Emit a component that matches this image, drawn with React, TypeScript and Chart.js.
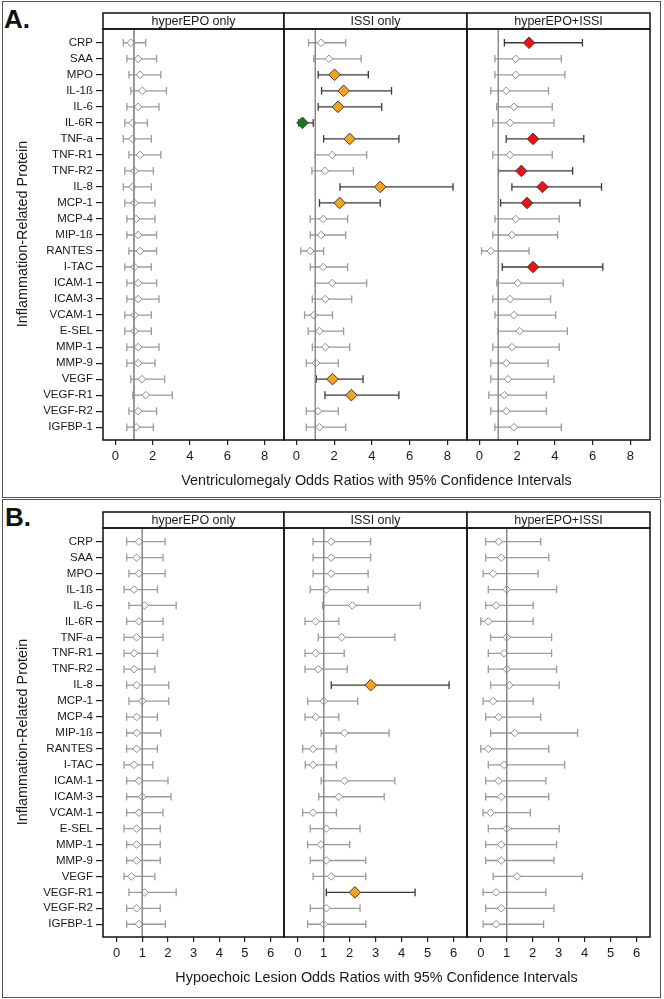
import React, { useEffect, useRef } from 'react';
import { Chart, registerables } from 'chart.js';

Chart.register(...registerables);

const FONT = '"Liberation Sans", Arial, Helvetica, sans-serif';
const ORANGE = '#F6A21C';
const RED = '#F01010';
const GREEN = '#157A15';
const DARK = '#3a3a3a';
const GRAYW = '#9a9a9a';

const proteins = [
  'CRP', 'SAA', 'MPO', 'IL-1ß', 'IL-6', 'IL-6R', 'TNF-a', 'TNF-R1', 'TNF-R2', 'IL-8',
  'MCP-1', 'MCP-4', 'MIP-1ß', 'RANTES', 'I-TAC', 'ICAM-1', 'ICAM-3', 'VCAM-1', 'E-SEL',
  'MMP-1', 'MMP-9', 'VEGF', 'VEGF-R1', 'VEGF-R2', 'IGFBP-1',
];

const facetNames = ['hyperEPO only', 'ISSI only', 'hyperEPO+ISSI'];

// ---------- A. Ventriculomegaly ----------
const vmEpoLo = [0.43, 0.62, 0.73, 0.83, 0.62, 0.51, 0.43, 0.73, 0.51, 0.43, 0.51, 0.62, 0.62, 0.73, 0.51, 0.62, 0.62, 0.51, 0.51, 0.62, 0.62, 0.83, 0.94, 0.73, 0.62];
const vmEpoOr = [0.83, 1.22, 1.33, 1.45, 1.22, 0.92, 0.92, 1.33, 1.03, 0.92, 1.03, 1.12, 1.22, 1.33, 1.03, 1.22, 1.22, 1.03, 1.03, 1.22, 1.22, 1.43, 1.63, 1.22, 1.12];
const vmEpoHi = [1.63, 2.21, 2.44, 2.74, 2.34, 1.72, 1.93, 2.44, 2.04, 1.93, 2.13, 2.13, 2.21, 2.21, 1.93, 2.21, 2.34, 1.93, 1.93, 2.34, 2.13, 2.64, 3.05, 2.21, 2.04];

const vmIssiLo = [0.64, 0.92, 1.15, 1.33, 1.15, 0.12, 1.44, 0.99, 0.82, 2.31, 1.22, 0.73, 0.73, 0.23, 0.73, 0.99, 0.84, 0.43, 0.62, 0.84, 0.52, 1.05, 1.51, 0.52, 0.52];
const vmIssiOr = [1.31, 1.72, 2.02, 2.5, 2.2, 0.32, 2.82, 1.9, 1.51, 4.44, 2.29, 1.42, 1.31, 0.73, 1.42, 1.9, 1.53, 0.92, 1.22, 1.53, 1.03, 1.91, 2.91, 1.14, 1.22];
const vmIssiHi = [2.61, 3.43, 3.81, 5.04, 4.52, 0.89, 5.43, 3.72, 3.02, 8.3, 4.44, 2.71, 2.61, 1.44, 2.71, 3.72, 2.93, 1.91, 2.5, 2.82, 2.22, 3.53, 5.43, 2.22, 2.61];

const vmComboLo = [1.32, 0.82, 0.82, 0.6, 0.91, 0.71, 1.42, 0.71, 1.01, 1.72, 1.12, 0.82, 0.71, 0.11, 1.21, 0.92, 0.71, 0.82, 0.98, 0.71, 0.6, 0.6, 0.5, 0.6, 0.82];
const vmComboOr = [2.63, 1.92, 1.92, 1.42, 1.83, 1.62, 2.84, 1.62, 2.22, 3.34, 2.52, 1.92, 1.72, 0.6, 2.84, 2.03, 1.62, 1.83, 2.13, 1.72, 1.42, 1.51, 1.32, 1.42, 1.83];
const vmComboHi = [5.46, 4.34, 4.53, 3.66, 3.86, 3.95, 5.53, 3.86, 4.94, 6.47, 5.33, 4.23, 4.14, 2.63, 6.54, 4.44, 3.77, 4.04, 4.66, 4.23, 3.64, 3.95, 3.55, 3.55, 4.34];

const vmIssiUp = ['MPO', 'IL-1ß', 'IL-6', 'TNF-a', 'IL-8', 'MCP-1', 'VEGF', 'VEGF-R1'];
const vmIssiDown = ['IL-6R'];
const vmComboUp = ['CRP', 'TNF-a', 'TNF-R2', 'IL-8', 'MCP-1', 'I-TAC'];

const vmTicks = [0, 2, 4, 6, 8];
const vmRange = [-0.66, 9.04];

// ---------- B. Hypoechoic lesion ----------
const hlEpoLo = [0.39, 0.39, 0.48, 0.29, 0.48, 0.39, 0.29, 0.29, 0.29, 0.39, 0.48, 0.39, 0.39, 0.39, 0.29, 0.39, 0.39, 0.39, 0.29, 0.39, 0.39, 0.29, 0.48, 0.39, 0.39];
const hlEpoOr = [0.87, 0.78, 0.87, 0.68, 1.09, 0.87, 0.78, 0.68, 0.68, 0.78, 1.0, 0.78, 0.78, 0.78, 0.68, 0.87, 1.0, 0.87, 0.78, 0.78, 0.78, 0.58, 1.09, 0.78, 0.87];
const hlEpoHi = [1.89, 1.81, 1.89, 1.59, 2.32, 1.81, 1.81, 1.59, 1.49, 2.03, 2.03, 1.59, 1.72, 1.59, 1.41, 2.0, 2.12, 1.81, 1.7, 1.7, 1.7, 1.49, 2.32, 1.7, 1.9];

const hlIssiLo = [0.59, 0.59, 0.59, 0.48, 0.96, 0.28, 0.79, 0.28, 0.28, 1.29, 0.38, 0.28, 0.9, 0.19, 0.29, 0.9, 0.81, 0.19, 0.48, 0.38, 0.48, 0.59, 1.1, 0.48, 0.38];
const hlIssiOr = [1.29, 1.29, 1.29, 1.1, 2.1, 0.69, 1.69, 0.69, 0.79, 2.81, 1.0, 0.69, 1.8, 0.59, 0.59, 1.8, 1.58, 0.59, 1.1, 0.89, 1.1, 1.29, 2.2, 1.1, 1.0];
const hlIssiHi = [2.81, 2.81, 2.71, 2.71, 4.72, 1.58, 3.74, 1.79, 1.91, 5.83, 2.31, 1.58, 3.52, 1.48, 1.49, 3.74, 3.33, 1.49, 2.4, 2.0, 2.62, 2.62, 4.52, 2.4, 2.62];

const hlComboLo = [0.19, 0.19, 0.09, 0.29, 0.19, 0.0, 0.38, 0.29, 0.29, 0.38, 0.09, 0.19, 0.38, 0.0, 0.29, 0.19, 0.19, 0.09, 0.29, 0.19, 0.19, 0.48, 0.09, 0.19, 0.09];
const hlComboOr = [0.69, 0.79, 0.48, 1.0, 0.59, 0.29, 1.0, 0.9, 1.0, 1.1, 0.48, 0.69, 1.31, 0.29, 0.9, 0.69, 0.79, 0.38, 1.0, 0.79, 0.79, 1.4, 0.59, 0.79, 0.59];
const hlComboHi = [2.31, 2.62, 2.21, 2.92, 2.02, 2.02, 2.73, 2.73, 2.92, 3.02, 2.02, 2.31, 3.73, 2.62, 3.23, 2.51, 2.62, 1.91, 3.02, 2.92, 2.82, 3.91, 2.51, 2.82, 2.42];

const hlIssiUp = ['IL-8', 'VEGF-R1'];

const hlTicks = [0, 1, 2, 3, 4, 5, 6];
const hlRange = [-0.53, 6.52];

const yRange = [-0.86, 24.8];

type FacetProps = {
  left: number;
  top: number;
  width: number;
  height: number;
  stripH: number;
  title: string;
  lo: number[];
  or: number[];
  hi: number[];
  up: string[];
  down: string[];
  upColor: string;
  xRange: number[];
  xTicks: number[];
  showY: boolean;
};

function Facet(p: FacetProps) {
  const ref = useRef<HTMLCanvasElement>(null);
  const padL = p.showY ? p.left - 22 : 8;
  const padR = 8;
  const padT = p.stripH + 3;
  const axisH = 32;
  const cw = padL + p.width + padR;
  const ch = padT + p.height + axisH;

  useEffect(() => {
    if (!ref.current) return;
    const kinds = proteins.map((n) => (p.up.includes(n) ? 'up' : p.down.includes(n) ? 'down' : 'none'));
    const sig = kinds.map((k) => k !== 'none');
    const fill = kinds.map((k) => (k === 'up' ? p.upColor : k === 'down' ? GREEN : '#ffffff'));
    const pointData = p.or.map((v, i) => ({ x: v, y: i }));
    const whisk = (want: boolean) => {
      const d: { x: number | null; y: number | null }[] = [];
      proteins.forEach((_, i) => {
        if (sig[i] === want) {
          d.push({ x: p.lo[i], y: i }, { x: p.hi[i], y: i }, { x: null, y: null });
        }
      });
      return d;
    };
    const capData = [...p.lo.map((v, i) => ({ x: v, y: i })), ...p.hi.map((v, i) => ({ x: v, y: i }))];
    const capColor = [...sig, ...sig].map((s) => (s ? DARK : GRAYW));

    const framePlugin = {
      id: 'facetFrame',
      afterDraw(chart: any) {
        const { ctx, chartArea } = chart;
        const { left, right, top, bottom } = chartArea;
        ctx.save();
        ctx.fillStyle = '#ffffff';
        ctx.fillRect(left, top - p.stripH, right - left, p.stripH);
        ctx.strokeStyle = '#111111';
        ctx.lineWidth = 1.5;
        ctx.strokeRect(left, top - p.stripH, right - left, p.stripH);
        ctx.strokeRect(left, top, right - left, bottom - top);
        ctx.fillStyle = '#1a1a1a';
        ctx.font = `12.5px ${FONT}`;
        ctx.textAlign = 'center';
        ctx.textBaseline = 'middle';
        ctx.fillText(p.title, (left + right) / 2, top - p.stripH / 2 + 0.5);
        ctx.restore();
      },
    };

    const chart = new Chart(ref.current, {
      type: 'scatter',
      data: {
        datasets: [
          {
            label: 'ref',
            data: [{ x: 1, y: -5 }, { x: 1, y: 30 }],
            showLine: true,
            borderColor: '#8a8a8a',
            borderWidth: 1,
            pointRadius: 0,
            order: 0,
          } as any,
          {
            label: 'or',
            data: pointData,
            pointStyle: 'rectRot',
            pointRadius: sig.map((s) => (s ? 5.8 : 3.8)),
            pointBackgroundColor: fill,
            pointBorderColor: sig.map((s) => (s ? '#3d3d3d' : '#8c8c8c')),
            pointBorderWidth: 1,
            order: 1,
          } as any,
          {
            label: 'caps',
            data: capData,
            pointStyle: 'line',
            pointRotation: 90,
            pointRadius: 3.8,
            pointBorderColor: capColor,
            pointBorderWidth: 1.3,
            order: 2,
          } as any,
          {
            label: 'ci',
            data: whisk(false),
            showLine: true,
            borderColor: GRAYW,
            borderWidth: 1.3,
            pointRadius: 0,
            order: 3,
          } as any,
          {
            label: 'ciSig',
            data: whisk(true),
            showLine: true,
            borderColor: DARK,
            borderWidth: 1.3,
            pointRadius: 0,
            order: 3,
          } as any,
        ],
      },
      options: {
        animation: false,
        responsive: false,
        events: [],
        layout: { padding: { left: 0, right: padR, top: padT, bottom: 0 }, autoPadding: false },
        plugins: { legend: { display: false }, tooltip: { enabled: false } },
        scales: {
          x: {
            type: 'linear',
            min: p.xRange[0],
            max: p.xRange[1],
            afterBuildTicks: (s: any) => {
              s.ticks = p.xTicks.map((v) => ({ value: v }));
            },
            afterFit: (s: any) => {
              s.height = axisH;
            },
            ticks: { font: { size: 13, family: FONT }, color: '#1a1a1a', padding: 4, maxRotation: 0, autoSkip: false },
            grid: { drawOnChartArea: false, drawTicks: true, tickLength: 5, color: '#222222', lineWidth: 1.2 },
            border: { display: false },
          },
          y: {
            type: 'linear',
            reverse: true,
            min: yRange[0],
            max: yRange[1],
            afterBuildTicks: (s: any) => {
              s.ticks = proteins.map((_, i) => ({ value: i }));
            },
            afterFit: (s: any) => {
              s.width = padL;
            },
            ticks: {
              display: p.showY,
              callback: (v: any) => proteins[v as number] ?? '',
              font: { size: 11.5, family: FONT },
              color: '#1a1a1a',
              padding: 3,
              autoSkip: false,
            },
            grid: { drawOnChartArea: false, drawTicks: p.showY, tickLength: 7, color: '#222222', lineWidth: 1.2 },
            border: { display: false },
          },
        },
      } as any,
      plugins: [framePlugin],
    });
    return () => chart.destroy();
  }, []);

  return (
    <canvas
      ref={ref}
      width={cw}
      height={ch}
      style={{ position: 'absolute', left: p.left - padL, top: p.top - padT, width: cw, height: ch }}
    />
  );
}

const facetLefts = [103, 284, 467];
const facetWidths = [181, 183, 183];

export default function App() {
  const panelA = [
    { lo: vmEpoLo, or: vmEpoOr, hi: vmEpoHi, up: [] as string[], down: [] as string[], upColor: ORANGE },
    { lo: vmIssiLo, or: vmIssiOr, hi: vmIssiHi, up: vmIssiUp, down: vmIssiDown, upColor: ORANGE },
    { lo: vmComboLo, or: vmComboOr, hi: vmComboHi, up: vmComboUp, down: [] as string[], upColor: RED },
  ];
  const panelB = [
    { lo: hlEpoLo, or: hlEpoOr, hi: hlEpoHi, up: [] as string[], down: [] as string[], upColor: ORANGE },
    { lo: hlIssiLo, or: hlIssiOr, hi: hlIssiHi, up: hlIssiUp, down: [] as string[], upColor: ORANGE },
    { lo: hlComboLo, or: hlComboOr, hi: hlComboHi, up: [] as string[], down: [] as string[], upColor: RED },
  ];

  const textBase: React.CSSProperties = { position: 'absolute', whiteSpace: 'nowrap', color: '#1a1a1a', fontFamily: FONT };

  return (
    <div style={{ position: 'absolute', left: 0, top: 0, width: 664, height: 999, background: '#ffffff', fontFamily: FONT, overflow: 'hidden' }}>
      <div style={{ position: 'absolute', left: 2, top: 1, width: 659, height: 497, border: '1.5px solid #555', boxSizing: 'border-box' }} />
      <div style={{ position: 'absolute', left: 2, top: 499, width: 659, height: 499, border: '1.5px solid #555', boxSizing: 'border-box' }} />

      <div style={{ ...textBase, left: 4, top: 6, fontSize: 26, fontWeight: 700, lineHeight: '26px', color: '#111' }}>A.</div>
      <div style={{ ...textBase, left: 5, top: 504, fontSize: 26, fontWeight: 700, lineHeight: '26px', color: '#111' }}>B.</div>

      {panelA.map((f, i) => (
        <Facet
          key={'a' + i}
          left={facetLefts[i]}
          top={29}
          width={facetWidths[i]}
          height={411}
          stripH={16}
          title={facetNames[i]}
          lo={f.lo}
          or={f.or}
          hi={f.hi}
          up={f.up}
          down={f.down}
          upColor={f.upColor}
          xRange={vmRange}
          xTicks={vmTicks}
          showY={i === 0}
        />
      ))}
      {panelB.map((f, i) => (
        <Facet
          key={'b' + i}
          left={facetLefts[i]}
          top={528}
          width={facetWidths[i]}
          height={409}
          stripH={16}
          title={facetNames[i]}
          lo={f.lo}
          or={f.or}
          hi={f.hi}
          up={f.up}
          down={f.down}
          upColor={f.upColor}
          xRange={hlRange}
          xTicks={hlTicks}
          showY={i === 0}
        />
      ))}

      <div style={{ ...textBase, left: 103, width: 547, top: 471, textAlign: 'center', fontSize: 14.4, lineHeight: '18px' }}>
        Ventriculomegaly Odds Ratios with 95% Confidence Intervals
      </div>
      <div style={{ ...textBase, left: 103, width: 547, top: 968, textAlign: 'center', fontSize: 14.4, lineHeight: '18px' }}>
        Hypoechoic Lesion Odds Ratios with 95% Confidence Intervals
      </div>

      <div style={{ ...textBase, left: 22, top: 234, fontSize: 14.4, lineHeight: '18px', transform: 'translate(-50%, -50%) rotate(-90deg)' }}>
        Inflammation-Related Protein
      </div>
      <div style={{ ...textBase, left: 22, top: 732, fontSize: 14.4, lineHeight: '18px', transform: 'translate(-50%, -50%) rotate(-90deg)' }}>
        Inflammation-Related Protein
      </div>
    </div>
  );
}
